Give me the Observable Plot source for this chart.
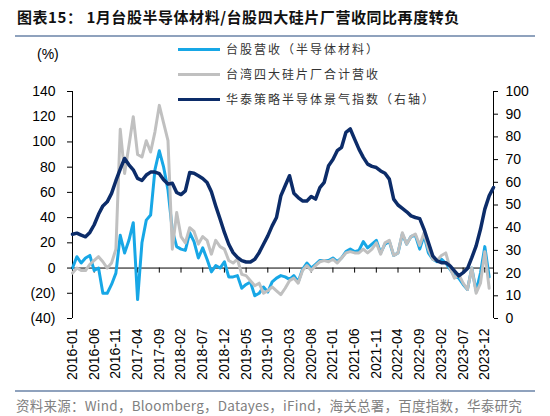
<!DOCTYPE html>
<html><head><meta charset="utf-8">
<script src="https://cdn.jsdelivr.net/npm/d3@7"></script>
<script src="https://cdn.jsdelivr.net/npm/@observablehq/plot@0.6"></script>
<style>
body{margin:0;background:#fff;}
#wrap{position:relative;width:550px;height:416px;overflow:hidden;font-family:"Liberation Sans",Arial,sans-serif;}
#title{position:absolute;left:17px;top:7px;font:bold 15px "Noto Sans CJK SC";letter-spacing:0.55px;color:#111;white-space:nowrap;line-height:20px;}
.rule{position:absolute;left:15px;width:520px;height:2px;background:#8fa2bd;}
#chart{position:absolute;left:0;top:40px;}
.item{position:absolute;left:178px;display:flex;align-items:center;white-space:nowrap;height:16px;}
.sw{width:42px;height:3px;margin-right:6px;}
.lt{font:12px "Noto Sans CJK SC";letter-spacing:2px;color:#333;line-height:16px;}
#unit{position:absolute;left:37px;top:46px;font:14px "Liberation Sans";color:#000;}
#source{position:absolute;left:16px;top:396px;font:13.5px "Noto Sans CJK SC";letter-spacing:0.25px;color:#808080;white-space:nowrap;line-height:18px;}
</style></head>
<body>
<div id="wrap">
  <div id="title">图表15：&nbsp;1月台股半导体材料/台股四大硅片厂营收同比再度转负</div>
  <div class="rule" style="top:35px"></div>
  <div id="chart"></div>
  <div id="unit">(%)</div>
  <div id="legend"></div>
  <div class="rule" style="top:390px"></div>
  <div id="source">资料来源：Wind，Bloomberg，Datayes，iFind，海关总署，百度指数，华泰研究</div>
</div>
<script>
// Categories: months 2016-01 .. 2024-02
const months = d3.utcMonth.range(new Date(Date.UTC(2016,0,1)), new Date(Date.UTC(2024,2,1))).map(d3.utcFormat("%Y-%m"));
const xTickLabels = ["2016-01","2016-06","2016-11","2017-04","2017-09","2018-02","2018-07","2018-12","2019-05","2019-10","2020-03","2020-08","2021-01","2021-06","2021-11","2022-04","2022-09","2023-02","2023-07","2023-12"];
const leftTicks = [-40,-20,0,20,40,60,80,100,120,140];
const rightTicks = [0,10,20,30,40,50,60,70,80,90,100];

const seriesNames = ["台股营收（半导体材料）","台湾四大硅片厂合计营收","华泰策略半导体景气指数（右轴）"];
const seriesColors = ["#17a7e6","#c0c0c0","#0c2c69"];

// 台股营收（半导体材料）yoy %, 2016-01 .. 2024-01
const materials = [0,9,4,8,10,-2,0,-20,-20,-13,-4,26,12,22,36,-25,20,38,42,78,93,80,62,30,17,15,14,28,21,8,16,7,-3,2,0,5,-7,-7,-6,-16,-13,-11,-22,-20,-15,-19,-11,-8,-6,-7,-9,-6,-11,-1,4,0,3,6,6,6,8,5,8,13,15,13,14,21,16,19,22,12,19,21,10,12,27,19,25,26,15,26,12,7,5,7,4,-1,-6,-8,-13,-17,0,-18,-4,17,-7];
// 台湾四大硅片厂合计营收 yoy %, 2016-01 .. 2024-01
const wafers = [-4,0,-2,-2,3,6,9,5,0,4,15,110,75,97,120,90,88,101,92,108,129,115,101,15,44,25,20,32,29,19,25,22,11,22,17,15,6,4,7,-5,-6,-10,-14,-12,-20,-18,-15,-18,-21,-16,-10,-8,-12,-2,2,-2,2,5,6,5,7,4,8,12,13,12,12,15,12,15,20,11,20,22,10,12,28,19,25,27,18,28,15,7,6,10,12,0,-8,-5,-12,-17,0,-20,-12,13,-16];
// 华泰策略半导体景气指数（右轴）, 2016-01 .. 2024-02
const indexVals = [37.1,37.6,36.7,36.0,37.9,41.3,45.9,49.6,51.4,55.1,60.7,65.8,70.5,67.7,65.5,61.7,60.8,63.2,64.5,64.5,63.8,61.1,59.2,59.6,55.5,54.6,56.2,64.3,64.0,62.9,61.7,59.9,55.8,49.6,43.8,37.9,32.7,29.0,26.9,25.5,24.9,24.9,26.1,29.0,32.7,36.4,40.8,44.5,54.0,58.5,62.9,55.2,53.3,51.8,51.8,53.7,52.6,57.7,60.0,67.3,70.0,73.9,75.4,82.0,83.5,79.0,74.6,71.0,68.0,67.0,66.5,65.0,64.0,61.4,52.6,50.0,48.5,47.0,45.2,44.5,44.0,39.3,33.5,27.6,25.4,24.6,24.6,23.2,21.0,18.8,20.2,22.0,26.8,32.0,39.3,48.2,54.0,57.7];

// secondary axis mapping: right [0,100] <-> left [-40,140]
const toLeft = r => r * 1.8 - 40;
const toRight = v => (v + 40) / 1.8;

const matRows = materials.map((v, i) => ({m: months[i], v}));
const wafRows = wafers.map((v, i) => ({m: months[i], v}));
const idxRows = indexVals.map((v, i) => ({m: months[i], v}));

const fmtLeft = v => v < 0 ? `(${-v})` : `${v}`;

const chart = Plot.plot({
  width: 550,
  height: 350,
  marginLeft: 72,
  marginRight: 57,
  marginTop: 51,
  marginBottom: 72,
  style: {fontFamily: "Liberation Sans, Arial, sans-serif", fontSize: "14px", color: "#000", background: "#fff"},
  x: {type: "point", domain: months, padding: 0},
  y: {domain: [-40, 140]},
  marks: [
    Plot.ruleX([months[0], months[months.length - 1]], {stroke: "#000", strokeWidth: 1}),
    Plot.ruleY([0], {stroke: "#000", strokeWidth: 1}),
    Plot.ruleX(xTickLabels, {y1: 0, y2: -4, stroke: "#000", strokeWidth: 1}),
    Plot.line(matRows, {x: "m", y: "v", stroke: seriesColors[0], strokeWidth: 3, strokeLinejoin: "round"}),
    Plot.line(wafRows, {x: "m", y: "v", stroke: seriesColors[1], strokeWidth: 3, strokeLinejoin: "round"}),
    Plot.line(idxRows, {x: "m", y: d => toLeft(d.v), stroke: seriesColors[2], strokeWidth: 3.5, strokeLinejoin: "round"}),
    Plot.axisY(leftTicks, {anchor: "left", tickSize: 5, tickPadding: 12, tickFormat: fmtLeft, fontSize: 14, label: null}),
    Plot.axisY(rightTicks.map(toLeft), {anchor: "right", tickSize: 4, tickPadding: 8, tickFormat: v => `${Math.round(toRight(v))}`, fontSize: 14, label: null}),
    Plot.axisX(xTickLabels, {anchor: "bottom", tickSize: 0, tickPadding: 10, tickRotate: -90, fontSize: 14, label: null})
  ]
});
document.getElementById("chart").appendChild(chart);

// legend
const legend = document.getElementById("legend");
const rowTops = [41, 66, 91];
seriesNames.forEach((name, i) => {
  const item = document.createElement("div");
  item.className = "item";
  item.style.top = rowTops[i] + "px";
  const sw = document.createElement("span");
  sw.className = "sw";
  sw.style.background = seriesColors[i];
  const t = document.createElement("span");
  t.className = "lt";
  t.textContent = name;
  item.appendChild(sw);
  item.appendChild(t);
  legend.appendChild(item);
});
</script>
</body></html>
